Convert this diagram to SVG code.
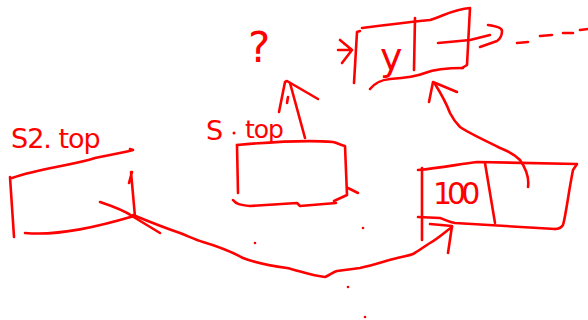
<svg xmlns="http://www.w3.org/2000/svg" width="588" height="320" viewBox="0 0 588 320">
<style>
.s{fill:none;stroke:#f00;stroke-width:2.6;stroke-linecap:round;stroke-linejoin:round}
.t{fill:#f00;font-family:"DejaVu Sans",sans-serif}
</style>
<rect width="588" height="320" fill="#fff"/>
<g id="node-s2top">
<text class="t" x="11" y="148" font-size="27" letter-spacing="-1">S2. top</text>
<path class="s" d="M12,178 C40,168 70,166 95,158 C110,155 122,153 133,150 L130,149"/>
<path class="s" d="M10,177 L14,237"/>
<path class="s" d="M131,172 L135,217 M129,183 L132,172"/>
<path class="s" d="M25,233 C60,236 100,226 134,216"/>
</g>
<g id="node-stop">
<text class="t" x="206" y="140" font-size="27">S</text>
<circle cx="234" cy="133" r="1.5" fill="#f00"/>
<text class="t" x="245" y="138" font-size="25" letter-spacing="-1">top</text>
<path class="s" d="M237,145 L238,193"/>
<path class="s" d="M237,145 C270,142 310,140 333,142 C338,143 340,145 345,146 L347,195 L334,201"/>
<path class="s" d="M348,188 L358,193"/>
<path class="s" d="M233,200 C236,204 240,205 250,206 L297,203 L300,206 L336,203"/>
</g>
<g id="node-question">
<text class="t" x="248" y="62" font-size="42">?</text>
</g>
<g id="node-y">
<path class="s" d="M357,32 L354,83 M357,32 L360,31"/>
<path class="s" d="M362,28 C385,25 410,22 430,20 C445,15 455,9 470,8 L467,65 L462,68"/>
<path class="s" d="M370,89 C375,83 380,80 390,79 C405,78 415,77 425,73 C435,69 450,68 463,68"/>
<path class="s" d="M415,18 L414,70"/>
<text class="t" x="380" y="70" font-size="38">y</text>
</g>
<g id="node-100">
<path class="s" d="M422,168 L422,240"/>
<path class="s" d="M418,170 C440,168 460,164 477,162 L577,164 L573,170 C568,195 566,215 563,225 C561,228 558,229 555,229"/>
<path class="s" d="M418,217 L440,218 C446,220 449,222 455,223 L555,229"/>
<path class="s" d="M485,163 L495,223"/>
<text class="t" x="433" y="204" font-size="30" letter-spacing="-5">100</text>
</g>
<g id="connectors">
<path class="s" d="M100,202 C115,207 125,211 132,216 L160,233"/>
<path class="s" d="M133,215 C150,222 165,228 180,233 C190,237 196,240 203,242 C220,247 232,252 243,258 C258,264 272,266 287,268 C300,271 312,276 325,277 C330,275 333,272 337,271 C345,270 352,269 360,268 C375,265 385,261 397,258 C404,256 408,256 413,254 C420,250 425,246 430,243 C440,237 446,231 452,227"/>
<path class="s" d="M430,224 L452,226 L448,253"/>
<path class="s" d="M305,138 L290,83"/>
<path class="s" d="M279,112 L285,82 L287,81 L318,99"/>
<path class="s" d="M288,97 L287,103"/>
<path class="s" d="M338,50 L352,50 M340,40 L352,50 L342,63"/>
<path class="s" d="M438,43 L470,40 L490,35"/>
<path class="s" d="M488,25 C496,26 502,28 502,31 C502,36 500,39 497,41 L480,47"/>
<path class="s" d="M517,43 L528,42 M540,36 L552,35 M563,33 L573,33 M580,30 L588,29"/>
<path class="s" d="M528,187 C529,180 527,170 520,160 C512,152 505,150 500,148 C485,140 470,134 460,127 C455,122 452,117 450,113 C445,100 440,92 435,84"/>
<path class="s" d="M429,102 L433,82 L457,92"/>
<circle cx="255" cy="243" r="1.3" fill="#f00"/>
<circle cx="363" cy="228" r="1.3" fill="#f00"/>
<circle cx="348" cy="287" r="1.3" fill="#f00"/>
<circle cx="365" cy="317" r="1.3" fill="#f00"/>
</g>
</svg>
